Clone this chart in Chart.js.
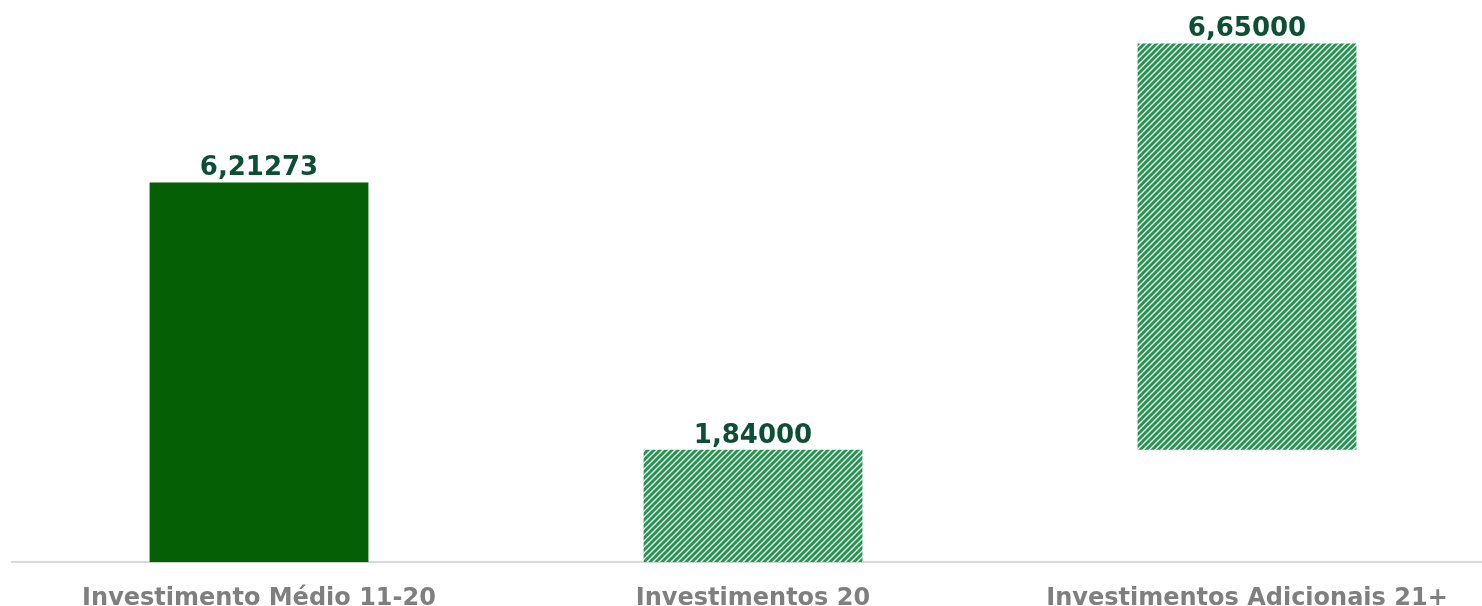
<!DOCTYPE html>
<html>
<head>
<meta charset="utf-8">
<script src="https://cdn.jsdelivr.net/npm/chart.js@4"></script>
<style>
  html, body { margin: 0; padding: 0; background: #fff; overflow: hidden; }
  #wrap { width: 1494px; height: 606px; position: relative; }
</style>
</head>
<body>
<div id="wrap"><canvas id="chart"></canvas></div>
<script>
const categories = ["Investimento Médio 11-20", "Investimentos 20", "Investimentos Adicionais 21+"];
const values = [6.21273, 1.84, 6.65];
const starts = [0, 0, 1.84];

function hatch() {
  const c = document.createElement("canvas");
  c.width = 6;
  c.height = 6;
  const g = c.getContext("2d");
  g.fillStyle = "#ffffff";
  g.fillRect(0, 0, 6, 6);
  g.strokeStyle = "#1a9a48";
  g.lineWidth = 2.9;
  g.beginPath();
  g.moveTo(-1, 7); g.lineTo(7, -1);
  g.moveTo(-4, 4); g.lineTo(4, -4);
  g.moveTo(2, 10); g.lineTo(10, 2);
  g.stroke();
  return g.createPattern(c, "repeat");
}

const pat = hatch();

const valueLabels = {
  id: "valueLabels",
  afterDatasetsDraw(chart) {
    const ctx = chart.ctx;
    const meta = chart.getDatasetMeta(0);
    ctx.save();
    ctx.font = "bold 26px 'DejaVu Sans'";
    ctx.fillStyle = "#0c4f34";
    ctx.textAlign = "center";
    ctx.textBaseline = "bottom";
    meta.data.forEach((bar, i) => {
      ctx.fillText(values[i].toFixed(5).replace(".", ","), bar.x, bar.y - 1);
    });
    ctx.restore();
  },
};

new Chart(document.getElementById("chart"), {
  type: "bar",
  data: {
    labels: categories,
    datasets: [
      {
        data: values.map((v, i) => [starts[i], starts[i] + v]),
        backgroundColor: ["#055f05", pat, pat],
        borderWidth: 0,
        borderSkipped: false,
        categoryPercentage: 1,
        barPercentage: 0.443,
      },
    ],
  },
  options: {
    responsive: true,
    maintainAspectRatio: false,
    animation: false,
    layout: { padding: { left: 12, right: 0, top: 0, bottom: -21 } },
    plugins: { legend: { display: false }, tooltip: { enabled: false } },
    scales: {
      x: {
        grid: { display: false },
        border: { color: "#d9d9d9", width: 2 },
        ticks: {
          color: "#7f7f7f",
          font: { family: "'DejaVu Sans'", size: 24, weight: "bold" },
          padding: 14,
          maxRotation: 0,
          minRotation: 0,
          autoSkip: false,
        },
      },
      y: { display: false, min: 0, max: 9.2 },
    },
  },
  plugins: [valueLabels],
});
</script>
</body>
</html>
